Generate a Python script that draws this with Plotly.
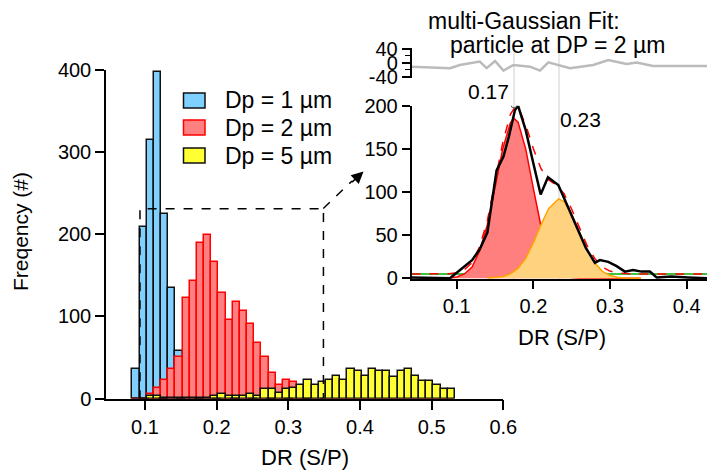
import plotly.graph_objects as go

# ---------------- main histogram data ----------------
bin_centers = [0.0875, 0.0975, 0.1075, 0.1175, 0.1275, 0.1375, 0.1475, 0.1575, 0.1675, 0.1775,
               0.1875, 0.1975, 0.2075, 0.2175, 0.2275, 0.2375, 0.2475, 0.2575, 0.2675, 0.2775,
               0.2875, 0.2975, 0.3075, 0.3175, 0.3275, 0.3375, 0.3475, 0.3575, 0.3675, 0.3775,
               0.3875, 0.3975, 0.4075, 0.4175, 0.4275, 0.4375, 0.4475, 0.4575, 0.4675, 0.4775,
               0.4875, 0.4975, 0.5075, 0.5175, 0.5275]
counts_dp1 = [36, 209, 315, 397, 225, 134, 58, 0, 0, 0,
              0, 0, 0, 0, 0, 0, 0, 0, 0, 0,
              0, 0, 0, 0, 0, 0, 0, 0, 0, 0,
              0, 0, 0, 0, 0, 0, 0, 0, 0, 0,
              0, 0, 0, 0, 0]
counts_dp2 = [0, 0, 6, 13, 22, 36, 51, 122, 143, 189,
              199, 166, 128, 95, 117, 106, 91, 68, 50, 31,
              17, 22, 20, 0, 0, 0, 0, 0, 0, 0,
              0, 0, 0, 0, 0, 0, 0, 0, 0, 0,
              0, 0, 0, 0, 0]
counts_dp5 = [0, 0, 3, 3, 1, 1, 1, 1, 1, 1,
              1, 3, 6, 3, 3, 3, 6, 3, 11, 11,
              7, 11, 13, 16, 22, 16, 20, 23, 27, 23,
              36, 34, 27, 36, 34, 33, 26, 33, 36, 27,
              21, 21, 17, 11, 11]
bin_width = 0.01
x_ticks_main = [0.1, 0.2, 0.3, 0.4, 0.5, 0.6]
x_ticklabels_main = ["0.1", "0.2", "0.3", "0.4", "0.5", "0.6"]
y_ticks_main = [0, 100, 200, 300, 400]
legend_labels = ["Dp = 1 µm", "Dp = 2 µm", "Dp = 5 µm"]

# ---------------- inset (multi-Gaussian fit) data ----------------
data_x = [0.041, 0.091, 0.100, 0.120, 0.130, 0.140, 0.152, 0.161, 0.168, 0.176, 0.180, 0.190,
          0.200, 0.2095, 0.219, 0.2325, 0.243, 0.2565, 0.2686, 0.2803, 0.2868, 0.2977, 0.3086,
          0.3194, 0.330, 0.341, 0.352, 0.3608, 0.380, 0.402, 0.4265]
data_y = [1, 0, 6.5, 21, 33.5, 53, 125, 141, 164, 195, 200, 171.6,
          133, 97, 117, 108, 87, 60, 35, 18, 21, 19, 14,
          7.7, 9.6, 7.7, 7.7, 1, 2, 1, 0]

peak1_x = [0.09, 0.10, 0.11, 0.12, 0.13, 0.14, 0.15, 0.16, 0.17, 0.175, 0.18, 0.19, 0.20,
           0.21, 0.22, 0.23, 0.24, 0.25, 0.26, 0.28, 0.30, 0.34]
peak1_y = [0.3, 1.5, 5, 13, 32, 62, 105, 150, 180, 185, 181, 150, 104,
           60, 28, 11, 4, 1, 0.3, 0, 0, 0]

peak2_x = [0.14, 0.15, 0.16, 0.17, 0.18, 0.19, 0.20, 0.21, 0.22, 0.233, 0.24, 0.25, 0.26,
           0.27, 0.28, 0.29, 0.30, 0.31, 0.32, 0.34]
peak2_y = [0.2, 0.6, 1.8, 5, 11.5, 23, 41, 62, 81, 92, 89, 74, 54,
           33, 18, 8, 3.3, 1.2, 0.4, 0]

fit_x = [0.041, 0.09, 0.10, 0.11, 0.12, 0.13, 0.14, 0.15, 0.16, 0.17, 0.175, 0.18, 0.19, 0.20,
         0.21, 0.22, 0.23, 0.24, 0.25, 0.26, 0.27, 0.28, 0.29, 0.30, 0.31, 0.32, 0.34, 0.4265]
fit_y = [5, 5.3, 6.5, 10, 18, 37, 67, 111, 157, 190, 197, 198, 178, 150,
         127, 114, 108, 98, 80, 59, 38, 23, 13, 8.3, 6.2, 5.4, 5, 5]

baseline_x = [0.041, 0.4265]
baseline_y = [5, 5]

resid_x = [0.0413, 0.0913, 0.104, 0.130, 0.139, 0.150, 0.161, 0.174, 0.1956, 0.2086, 0.2195,
           0.2334, 0.2477, 0.278, 0.2977, 0.3216, 0.3347, 0.3563, 0.4265]
resid_y = [-10.6, -15, -5.7, 3.8, -15, 5.7, -22, -5.7, -10.6, -22, 1.9,
           -5.7, -15, -5.7, 8.6, -2.9, 1, -8.6, -8.6]

peak_centers = [0.1747, 0.2334]
peak_labels = ["0.17", "0.23"]
peak_marker_x = [0.1747]
peak_marker_y = [201]

x_ticks_inset = [0.1, 0.2, 0.3, 0.4]
x_ticklabels_inset = ["0.1", "0.2", "0.3", "0.4"]
y_ticks_inset = [0, 50, 100, 150, 200]
y_ticks_resid = [-40, 0, 40]
y_ticklabels_resid = ["-40", "0", "40"]

# ---------------- figure ----------------
W, H = 707, 471
FONT = "Liberation Sans, Arial, sans-serif"

def px(xp):
    return xp / W

def py(yp):
    return (H - yp) / H

fig = go.Figure()

blue_fill, red_fill, yellow_fill = "#80D0FF", "#FF8080", "#FFFF33"

fig.add_trace(go.Bar(x=bin_centers, y=counts_dp1, width=bin_width, name=legend_labels[0],
                     marker=dict(color=blue_fill, line=dict(color="#111111", width=1.5)),
                     xaxis="x", yaxis="y"))
fig.add_trace(go.Bar(x=bin_centers, y=counts_dp2, width=bin_width, name=legend_labels[1],
                     marker=dict(color=red_fill, line=dict(color="#FF0000", width=1.5)),
                     xaxis="x", yaxis="y"))
fig.add_trace(go.Bar(x=bin_centers, y=counts_dp5, width=bin_width, name=legend_labels[2],
                     marker=dict(color=yellow_fill, line=dict(color="#111111", width=1.5)),
                     xaxis="x", yaxis="y"))

# inset traces
fig.add_trace(go.Scatter(x=baseline_x, y=baseline_y, mode="lines",
                         line=dict(color="#00B000", width=1.5), xaxis="x2", yaxis="y2"))
fig.add_trace(go.Scatter(x=peak1_x, y=peak1_y, mode="lines", fill="tozeroy",
                         fillcolor="#FF7F7F", line=dict(color="#FF0000", width=1.5),
                         xaxis="x2", yaxis="y2"))
fig.add_trace(go.Scatter(x=peak2_x, y=peak2_y, mode="lines", fill="tozeroy",
                         fillcolor="#FFD27F", line=dict(color="#FFA500", width=1.5),
                         xaxis="x2", yaxis="y2"))
fig.add_trace(go.Scatter(x=fit_x, y=fit_y, mode="lines",
                         line=dict(color="#FF0000", width=1.5, dash="dash"),
                         xaxis="x2", yaxis="y2"))
fig.add_trace(go.Scatter(x=data_x, y=data_y, mode="lines",
                         line=dict(color="#000000", width=2.5), xaxis="x2", yaxis="y2"))
fig.add_trace(go.Scatter(x=peak_marker_x, y=peak_marker_y, mode="markers",
                         marker=dict(symbol="circle-open", size=6, color="#555555",
                                     line=dict(width=1)),
                         xaxis="x2", yaxis="y2"))
# residuals
fig.add_trace(go.Scatter(x=resid_x, y=resid_y, mode="lines",
                         line=dict(color="#BBBBBB", width=2.5), xaxis="x3", yaxis="y3"))

axis_common = dict(showgrid=False, zeroline=False, showline=True, linecolor="black",
                   linewidth=1.5, ticks="outside", tickcolor="black", tickwidth=1.5,
                   automargin=False,
                   tickfont=dict(family=FONT, size=20, color="black"))

fig.update_layout(
    width=W, height=H,
    margin=dict(l=0, r=0, t=0, b=0, pad=0, autoexpand=False),
    paper_bgcolor="white", plot_bgcolor="rgba(0,0,0,0)",
    barmode="overlay", bargap=0, showlegend=False,
    font=dict(family=FONT, size=20, color="black"),
    xaxis=dict(domain=[px(106), px(503.3)], range=[0.0456, 0.6], anchor="y",
               tickvals=x_ticks_main, ticktext=x_ticklabels_main, ticklen=10, **axis_common),
    yaxis=dict(domain=[py(398.5), py(70)], range=[0, 400], anchor="x",
               tickvals=y_ticks_main, ticklen=9, **axis_common),
    xaxis2=dict(domain=[px(411.5), 1.0], range=[0.041, 0.4265], anchor="y2",
                tickvals=x_ticks_inset, ticktext=x_ticklabels_inset, ticklen=8, **axis_common),
    yaxis2=dict(domain=[py(279.3), py(105.7)], range=[-1.2, 200], anchor="x2",
                tickvals=y_ticks_inset, ticklen=8, **axis_common),
    xaxis3=dict(domain=[px(411.5), 1.0], range=[0.041, 0.4265], anchor="y3", visible=False,
                automargin=False),
    yaxis3=dict(domain=[py(78.3), py(48.3)], range=[-44, 42], anchor="x3",
                tickvals=y_ticks_resid, ticktext=y_ticklabels_resid, ticklen=8,
                minor=dict(dtick=20, ticks="outside", ticklen=5, tickcolor="black", tickwidth=1),
                **axis_common),
)

shapes = []
# dashed zoom box on main histogram
shapes.append(dict(type="rect", xref="x", yref="y", x0=0.093, x1=0.349, y0=0, y1=231,
                   line=dict(color="black", width=1.5, dash="dash"), fillcolor="rgba(0,0,0,0)",
                   layer="above"))
# dashed arrow line
shapes.append(dict(type="line", xref="paper", yref="paper", x0=px(323.3), y0=py(208.5),
                   x1=px(352), y1=py(181), line=dict(color="black", width=1.5, dash="dash")))
# peak position lines in inset and residual
for c in peak_centers:
    shapes.append(dict(type="line", xref="x2", yref="paper", x0=c, x1=c,
                       y0=py(279), y1=py(52), line=dict(color="#D8D8D8", width=1.2),
                       layer="below"))

# legend swatches
legend_fills = [blue_fill, red_fill, yellow_fill]
legend_lines = ["#111111", "#FF0000", "#111111"]
legend_rows = [100.5, 127.5, 155.5]
for fcol, lcol, yc in zip(legend_fills, legend_lines, legend_rows):
    shapes.append(dict(type="rect", xref="paper", yref="paper", x0=px(183.5), x1=px(205),
                       y0=py(yc + 7.5), y1=py(yc - 7.5), fillcolor=fcol,
                       line=dict(color=lcol, width=1.5)))
fig.update_layout(shapes=shapes)

ann = []
for lab, yc in zip(legend_labels, legend_rows):
    ann.append(dict(text=lab, xref="paper", yref="paper", x=px(223), y=py(yc),
                    xanchor="left", yanchor="middle", showarrow=False,
                    font=dict(family=FONT, size=23, color="black")))
# arrow head
ann.append(dict(text="", xref="paper", yref="paper", x=px(363.5), y=py(171.5),
                ax=-13, ay=12, axref="pixel", ayref="pixel", showarrow=True,
                arrowhead=2, arrowsize=1.6, arrowwidth=1.5, arrowcolor="black"))
# axis titles
ann.append(dict(text="Freqency (#)", xref="paper", yref="paper", x=px(20), y=py(232),
                textangle=-90, showarrow=False, xanchor="center", yanchor="middle",
                font=dict(family=FONT, size=21, color="black")))
ann.append(dict(text="DR (S/P)", xref="paper", yref="paper", x=px(305), y=py(457),
                showarrow=False, xanchor="center", yanchor="middle",
                font=dict(family=FONT, size=22, color="black")))
ann.append(dict(text="DR (S/P)", xref="paper", yref="paper", x=px(562), y=py(337),
                showarrow=False, xanchor="center", yanchor="middle",
                font=dict(family=FONT, size=22, color="black")))
# inset titles
ann.append(dict(text="multi-Gaussian Fit:", xref="paper", yref="paper", x=px(426), y=py(21),
                showarrow=False, xanchor="left", yanchor="middle",
                font=dict(family=FONT, size=23, color="black")))
ann.append(dict(text="particle at DP = 2 µm", xref="paper", yref="paper", x=px(448), y=py(45),
                showarrow=False, xanchor="left", yanchor="middle",
                font=dict(family=FONT, size=23, color="black")))
# peak labels
ann.append(dict(text=peak_labels[0], xref="paper", yref="paper", x=px(466), y=py(92),
                showarrow=False, xanchor="left", yanchor="middle",
                font=dict(family=FONT, size=21, color="black")))
ann.append(dict(text=peak_labels[1], xref="paper", yref="paper", x=px(558), y=py(119),
                showarrow=False, xanchor="left", yanchor="middle",
                font=dict(family=FONT, size=21, color="black")))
fig.update_layout(annotations=ann)

fig.write_html("out.html", config={"displayModeBar": False},
               post_script="document.body.style.margin='0';document.body.style.overflow='hidden';")
